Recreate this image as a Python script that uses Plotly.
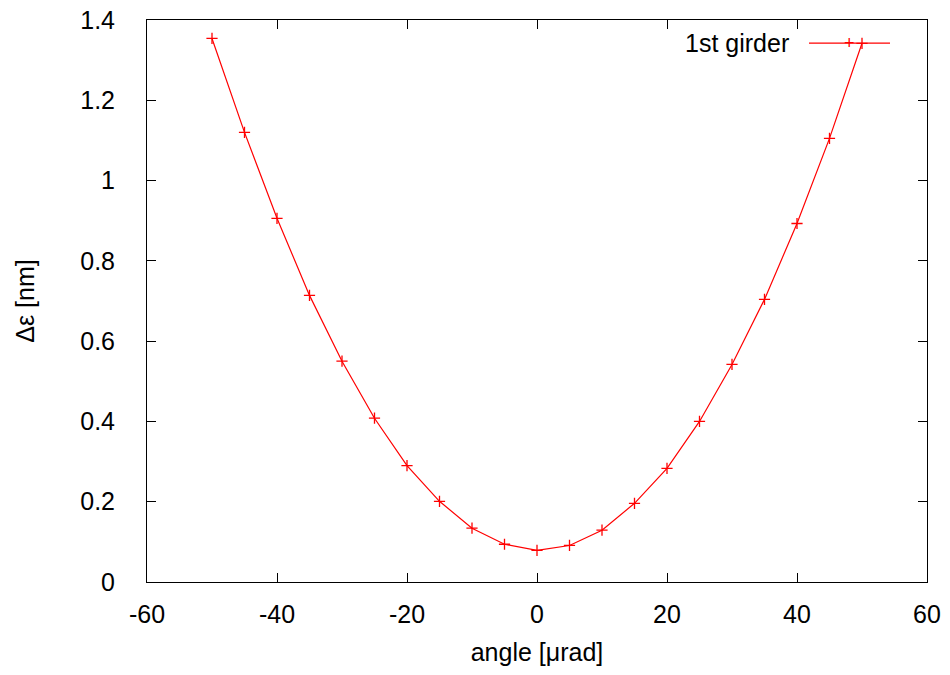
import plotly.graph_objects as go

# angle in microrad, emittance growth in nm
angle = [-50, -45, -40, -35, -30, -25, -20, -15, -10, -5, 0,
         5, 10, 15, 20, 25, 30, 35, 40, 45, 50]
delta_eps = [1.354, 1.120, 0.906, 0.714, 0.550, 0.408, 0.290, 0.201, 0.134, 0.094, 0.079,
             0.091, 0.129, 0.196, 0.283, 0.400, 0.542, 0.704, 0.893, 1.105, 1.342]
series_name = "1st girder"

x_ticks = [-60, -40, -20, 0, 20, 40, 60]
x_tick_labels = ["-60", "-40", "-20", "0", "20", "40", "60"]
y_ticks = [0, 0.2, 0.4, 0.6, 0.8, 1, 1.2, 1.4]
y_tick_labels = ["0", "0.2", "0.4", "0.6", "0.8", "1", "1.2", "1.4"]

font = "Liberation Sans, Arial, sans-serif"
red = "#ff0000"

fig = go.Figure()

fig.add_trace(go.Scatter(
    x=angle,
    y=delta_eps,
    mode="lines+markers",
    name=series_name,
    line=dict(color=red, width=1.2),
    marker=dict(symbol="cross-thin", size=8, line=dict(color=red, width=1.3)),
    showlegend=False
))

axis_common = dict(
    showgrid=False,
    zeroline=False,
    showline=True,
    linecolor="black",
    linewidth=1,
    mirror="ticks",
    ticks="inside",
    ticklen=9,
    tickcolor="black",
    automargin=False,
    ticklabeloverflow="allow",
    tickfont=dict(family=font, size=25, color="black"),
)

fig.update_xaxes(
    range=[-60, 60],
    tickvals=x_ticks,
    ticktext=x_tick_labels,
    ticklabelstandoff=10,
    title=dict(text="angle [μrad]", font=dict(family=font, size=25, color="black"), standoff=16),
    **axis_common
)
fig.update_yaxes(
    range=[0, 1.4],
    tickvals=y_ticks,
    ticktext=y_tick_labels,
    ticklabelstandoff=26,
    title=dict(text="Δε [nm]", font=dict(family=font, size=25, color="black"), standoff=38),
    **axis_common
)

# gnuplot-style key: text on the left, line sample with a point on the right
fig.add_annotation(
    x=0.8256, y=0.959, xref="paper", yref="paper",
    xanchor="right", yanchor="middle",
    text=series_name, showarrow=False,
    font=dict(family=font, size=25, color="black")
)
fig.add_shape(
    type="line", xref="paper", yref="paper",
    x0=0.8487, x1=0.9526, y0=0.959, y1=0.959,
    line=dict(color=red, width=1.2)
)
fig.add_annotation(
    x=0.9, y=0.959, xref="paper", yref="paper",
    text="+", showarrow=False,
    font=dict(family=font, size=18, color=red),
    xanchor="center", yanchor="middle"
)

# the page adds an 8px body margin, so the figure is 8px smaller
fig.update_layout(
    width=942,
    height=667,
    margin=dict(l=139, r=23, t=12, b=93),
    paper_bgcolor="white",
    plot_bgcolor="white",
)

fig.write_html("out.html")
